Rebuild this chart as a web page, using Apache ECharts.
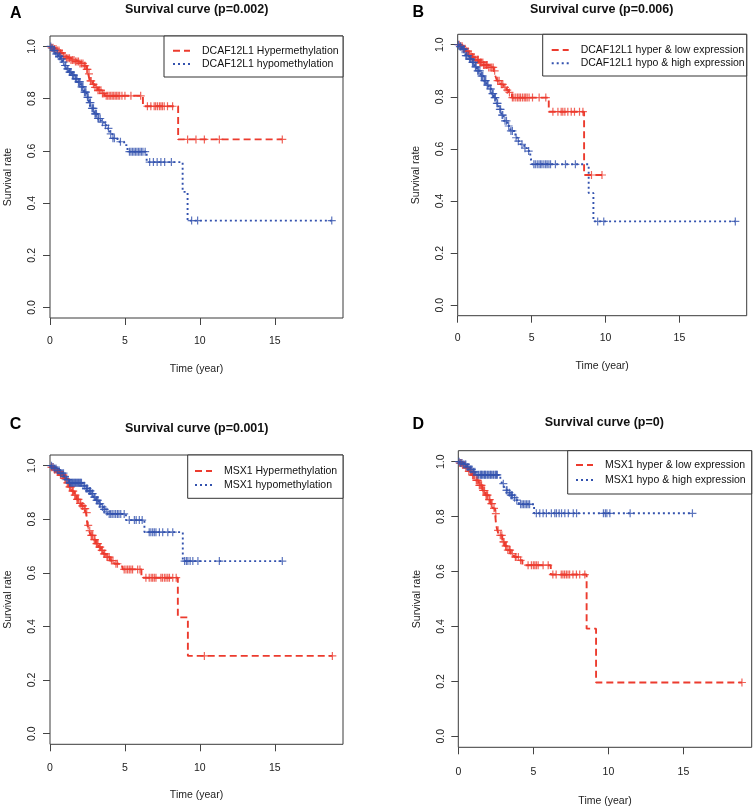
<!DOCTYPE html>
<html><head><meta charset="utf-8">
<script src="https://cdn.jsdelivr.net/npm/echarts@6/dist/echarts.min.js"></script>
<style>html,body{margin:0;padding:0;background:#fff}#c{width:753px;height:808px}</style>
</head><body><div id="c"></div>
<script>
// ---------- tick labels / text ----------
const xTicks = [0, 5, 10, 15];
const yTicks = [0, 0.2, 0.4, 0.6, 0.8, 1.0];
const panelLetters = ['A', 'B', 'C', 'D'];
const titles = ['Survival curve (p=0.002)', 'Survival curve (p=0.006)', 'Survival curve (p=0.001)', 'Survival curve (p=0)'];
const hyperNames = ['DCAF12L1 Hypermethylation', 'DCAF12L1 hyper & low expression', 'MSX1 Hypermethylation', 'MSX1 hyper & low expression'];
const hypoNames = ['DCAF12L1 hypomethylation', 'DCAF12L1 hypo & high expression', 'MSX1 hypomethylation', 'MSX1 hypo & high expression'];

// ---------- Panel A ----------
const aHyperT = [0.1,0.3,0.5,0.7,0.9,1.1,1.4,1.7,2.0,2.25,2.45,2.55,2.65,2.85,3.0,3.2,3.45,3.65,6.2,8.55];
const aHyperS = [0.995,0.99,0.984,0.975,0.962,0.955,0.948,0.942,0.935,0.926,0.912,0.895,0.868,0.855,0.843,0.832,0.82,0.811,0.771,0.644];
const aHyperC = [0.1,0.2,0.3,0.4,0.5,0.6,0.7,0.8,0.9,1.0,1.1,1.2,1.3,1.4,1.5,1.6,1.7,1.8,1.9,2.0,2.1,2.2,2.3,2.35,2.45,2.5,2.6,2.7,2.75,2.9,3.0,3.1,3.2,3.3,3.4,3.5,3.6,3.75,3.85,3.95,4.05,4.15,4.25,4.35,4.45,4.55,4.65,4.8,5.0,5.4,6.05,6.5,6.73,6.95,7.05,7.17,7.3,7.4,7.5,7.62,7.84,8.18,9.18,9.74,10.3,11.3,15.5];
const aHypoT = [0.1,0.2,0.38,0.55,0.71,0.85,0.95,1.1,1.27,1.45,1.65,1.83,2.05,2.27,2.45,2.6,2.72,2.95,3.16,3.4,3.6,3.83,4.0,4.16,4.5,4.95,5.17,6.45,8.85,9.18];
const aHypoS = [0.993,0.985,0.971,0.962,0.952,0.94,0.927,0.914,0.902,0.89,0.876,0.864,0.845,0.825,0.805,0.785,0.763,0.742,0.724,0.71,0.698,0.686,0.665,0.648,0.635,0.622,0.597,0.557,0.443,0.333];
const aHypoC = [0.05,0.15,0.25,0.3,0.4,0.5,0.6,0.65,0.75,0.8,0.9,1.0,1.05,1.15,1.2,1.3,1.35,1.4,1.5,1.55,1.6,1.7,1.75,1.8,1.9,1.95,2.0,2.1,2.15,2.2,2.3,2.35,2.4,2.5,2.55,2.65,2.7,2.8,2.85,2.9,3.0,3.05,3.1,3.2,3.25,3.35,3.5,3.7,3.9,4.05,4.2,4.3,4.7,5.3,5.4,5.5,5.6,5.7,5.8,5.9,6.0,6.1,6.2,6.35,6.65,6.9,7.15,7.4,7.65,8.1,9.45,9.85,18.8];

// ---------- Panel B ----------
const bHyperT = [0.15,0.35,0.55,0.74,1.0,1.2,1.42,1.75,2.1,2.44,2.55,2.66,2.9,3.11,3.3,3.45,3.67,6.16,8.55];
const bHyperS = [0.994,0.985,0.975,0.964,0.952,0.942,0.932,0.922,0.913,0.9,0.88,0.862,0.848,0.836,0.826,0.817,0.797,0.743,0.5];
const bHyperC = [0.1,0.2,0.3,0.4,0.5,0.6,0.7,0.8,0.9,1.0,1.1,1.2,1.3,1.35,1.4,1.5,1.55,1.6,1.7,1.75,1.8,1.9,1.95,2.0,2.1,2.2,2.3,2.4,2.5,2.7,2.8,2.95,3.05,3.2,3.35,3.5,3.7,3.8,3.93,4.05,4.15,4.25,4.38,4.5,4.6,4.7,4.83,5.06,5.51,5.96,6.44,6.78,7.0,7.11,7.25,7.45,7.68,7.9,8.24,8.47,9.05,9.76];
const bHypoT = [0.1,0.29,0.52,0.75,0.97,1.15,1.3,1.55,1.76,1.95,2.1,2.3,2.44,2.6,2.77,2.95,3.11,3.35,3.56,3.9,4.05,4.24,4.5,4.69,4.91,5.03,8.86,9.18];
const bHypoS = [0.993,0.983,0.958,0.945,0.932,0.915,0.9,0.88,0.862,0.845,0.83,0.812,0.797,0.775,0.752,0.73,0.708,0.688,0.669,0.643,0.63,0.618,0.603,0.592,0.573,0.541,0.431,0.322];
const bHypoC = [0.05,0.15,0.2,0.3,0.4,0.45,0.55,0.6,0.7,0.8,0.85,0.9,1.0,1.05,1.1,1.2,1.25,1.35,1.4,1.5,1.6,1.65,1.7,1.8,1.85,1.9,2.0,2.05,2.2,2.25,2.35,2.4,2.5,2.55,2.65,2.7,2.85,2.9,3.0,3.05,3.2,3.3,3.45,3.6,3.7,3.95,4.1,4.35,4.55,4.8,5.15,5.25,5.38,5.5,5.6,5.7,5.83,5.95,6.05,6.17,6.28,6.61,7.29,7.96,9.47,9.88,18.78];

// ---------- Panel C ----------
const cHyperT = [0.1,0.3,0.49,0.7,0.94,1.1,1.27,1.45,1.61,1.78,1.94,2.1,2.28,2.4,2.5,2.6,2.72,2.9,3.06,3.25,3.4,3.55,3.73,4.0,4.29,4.6,4.84,6.1,8.53,9.2];
const cHyperS = [0.994,0.985,0.977,0.965,0.952,0.936,0.921,0.905,0.89,0.874,0.859,0.85,0.84,0.825,0.777,0.758,0.74,0.724,0.709,0.696,0.684,0.671,0.659,0.646,0.634,0.624,0.613,0.582,0.434,0.29];
const cHyperC = [0.1,0.2,0.3,0.4,0.5,0.55,0.6,0.7,0.8,0.85,0.9,1.0,1.05,1.15,1.2,1.3,1.35,1.4,1.5,1.55,1.65,1.7,1.8,1.85,1.9,2.0,2.05,2.15,2.2,2.3,2.35,2.45,2.55,2.65,2.75,2.8,2.85,2.95,3.0,3.1,3.15,3.2,3.3,3.35,3.45,3.5,3.6,3.65,3.8,3.85,3.95,4.1,4.2,4.4,4.5,4.95,5.07,5.18,5.29,5.4,5.51,5.85,6.0,6.4,6.62,6.75,6.85,6.96,7.07,7.4,7.5,7.63,7.74,7.86,7.97,8.19,8.42,10.3,18.84];
const cHypoT = [0.15,0.3,0.49,0.7,0.94,1.1,1.27,2.15,2.39,2.55,2.72,2.9,3.06,3.25,3.4,3.55,3.73,3.85,5.07,6.3,8.86];
const cHypoS = [0.995,0.99,0.983,0.972,0.959,0.948,0.936,0.925,0.915,0.906,0.896,0.883,0.871,0.858,0.846,0.837,0.828,0.82,0.797,0.752,0.644];
const cHypoC = [0.1,0.2,0.3,0.4,0.5,0.6,0.7,0.8,0.9,1.0,1.1,1.2,1.3,1.35,1.4,1.45,1.5,1.55,1.6,1.65,1.7,1.75,1.8,1.85,1.9,1.95,2.0,2.05,2.1,2.2,2.3,2.4,2.45,2.5,2.6,2.65,2.7,2.8,2.85,2.95,3.0,3.1,3.15,3.2,3.3,3.35,3.5,3.6,3.65,3.8,3.95,4.05,4.15,4.27,4.38,4.5,4.6,4.72,4.95,5.29,5.63,5.75,5.96,6.15,6.62,6.73,6.85,6.96,7.07,7.3,7.52,7.86,8.19,8.98,9.1,9.2,9.35,9.53,9.87,11.3,15.5];

// ---------- Panel D ----------
const dHyperT = [0.1,0.29,0.47,0.7,0.92,1.15,1.36,1.6,1.81,2.0,2.14,2.3,2.45,2.52,2.6,2.7,2.93,3.1,3.26,3.5,3.71,4.04,4.27,6.16,8.55,9.18];
const dHyperS = [0.995,0.988,0.978,0.965,0.951,0.932,0.914,0.895,0.878,0.862,0.847,0.83,0.811,0.77,0.75,0.732,0.708,0.693,0.678,0.665,0.653,0.641,0.623,0.589,0.392,0.196];
const dHyperC = [0.1,0.2,0.3,0.4,0.5,0.6,0.7,0.8,0.85,0.95,1.0,1.05,1.1,1.2,1.25,1.3,1.4,1.45,1.5,1.55,1.65,1.7,1.75,1.85,1.9,1.95,2.05,2.1,2.2,2.25,2.38,2.5,2.65,2.8,2.9,3.0,3.05,3.15,3.2,3.3,3.4,3.45,3.6,3.8,3.85,4.0,4.15,4.65,4.87,5.0,5.1,5.2,5.32,5.65,5.99,6.3,6.52,6.86,6.97,7.08,7.2,7.31,7.42,7.64,7.87,8.09,8.43,18.9];
const dHypoT = [0.15,0.35,0.58,0.8,1.0,1.14,2.8,2.93,3.05,3.15,3.3,3.48,3.65,3.82,4.04,5.05];
const dHypoS = [0.995,0.99,0.981,0.972,0.963,0.952,0.935,0.92,0.908,0.896,0.887,0.878,0.869,0.86,0.845,0.812];
const dHypoC = [0.05,0.15,0.25,0.35,0.45,0.5,0.6,0.7,0.8,0.9,1.0,1.1,1.25,1.35,1.45,1.5,1.55,1.6,1.7,1.75,1.8,1.85,1.95,2.0,2.1,2.15,2.2,2.3,2.35,2.45,2.5,2.55,2.6,3.0,3.2,3.25,3.4,3.5,3.55,3.6,3.75,3.9,4.15,4.25,4.35,4.45,4.55,4.65,4.75,5.2,5.43,5.65,5.87,6.2,6.43,6.54,6.72,6.88,7.1,7.33,7.66,7.88,9.67,9.8,9.9,10.1,11.45,15.6];

const hyperData = [[aHyperT, aHyperS, aHyperC],[bHyperT, bHyperS, bHyperC],[cHyperT, cHyperS, cHyperC],[dHyperT, dHyperS, dHyperC]];
const hypoData = [[aHypoT, aHypoS, aHypoC],[bHypoT, bHypoS, bHypoC],[cHypoT, cHypoS, cHypoC],[dHypoT, dHypoS, dHypoC]];

// ---------- layout ----------
const RED = '#EC3B2E', BLUE = '#3352AE';
const RED_DASH = [7, 4], BLUE_DASH = [2, 3];
const RED_W = 1.9, BLUE_W = 1.9;
const FONT = '"Liberation Sans", Arial, Helvetica, sans-serif';
const grids = [
  {left: 50, top: 36, width: 293, height: 282},
  {left: 457.7, top: 34.3, width: 289, height: 281.4},
  {left: 50, top: 455, width: 293, height: 289.3},
  {left: 458.3, top: 450.7, width: 293.4, height: 296.6}
];
const xLabMargin = [18, 17, 18, 19.5];
const xNameGap = [46, 45, 45, 48.5];
// legend: x of sample start, row y's, box
const legendPos = [
  {x: 173, rows: [50.7, 64], box: [164, 36, 179, 41]},
  {x: 551.7, rows: [50, 63.3], box: [542.7, 34.3, 204, 41.7]},
  {x: 195, rows: [471, 485], box: [187.7, 455, 155.3, 43.3]},
  {x: 576, rows: [465, 480], box: [567.7, 450.7, 184, 43.3]}
];
const titlePos = [[196.7, 10], [601.7, 10], [196.7, 429], [604.3, 422.5]];
const letterPos = [[15.8, 13.5], [418.2, 12.8], [15.5, 425], [418.2, 425]];

function survAt(T, S, t) {
  let s = 1;
  for (let i = 0; i < T.length; i++) { if (T[i] <= t) s = S[i]; }
  return s;
}
function stepPoints(T, S, C) {
  const pts = [[0, 1]];
  for (let i = 0; i < T.length; i++) pts.push([T[i], S[i]]);
  const end = Math.max(C[C.length - 1], T[T.length - 1]);
  pts.push([end, S[S.length - 1]]);
  return pts;
}
function censorPoints(T, S, C) { return C.map(t => [t, survAt(T, S, t)]); }

const CROSS = 'path://M0,5L10,5M5,0L5,10';
const option = {
  animation: false,
  backgroundColor: '#fff',
  grid: [], xAxis: [], yAxis: [], series: [], graphic: []
};
for (let i = 0; i < 4; i++) {
  const g = grids[i];
  option.grid.push(Object.assign({show: true, borderColor: '#3a3a3a', borderWidth: 1, backgroundColor: 'transparent', containLabel: false}, g));
  option.xAxis.push({
    type: 'value', gridIndex: i, min: 0, max: 19.55, position: 'bottom',
    axisLine: {show: false, onZero: false},
    axisTick: {show: true, length: 7, customValues: xTicks, lineStyle: {color: '#444', width: 1}},
    axisLabel: {customValues: xTicks, margin: xLabMargin[i], fontSize: 10.5, color: '#222', fontFamily: FONT},
    splitLine: {show: false},
    name: 'Time (year)', nameLocation: 'middle', nameGap: xNameGap[i],
    nameTextStyle: {fontSize: 10.5, color: '#222', fontFamily: FONT}
  });
  option.yAxis.push({
    type: 'value', gridIndex: i, min: -0.04, max: 1.04, position: 'left',
    axisLine: {show: false, onZero: false},
    axisTick: {show: true, length: 7, customValues: yTicks, lineStyle: {color: '#444', width: 1}},
    axisLabel: {customValues: yTicks, rotate: 90, margin: 12, fontSize: 10.5, color: '#222', fontFamily: FONT,
      formatter: v => Number(v).toFixed(1)},
    splitLine: {show: false},
    name: 'Survival rate', nameLocation: 'middle', nameGap: 36, nameRotate: 90,
    nameTextStyle: {fontSize: 10.5, color: '#222', fontFamily: FONT}
  });
  const hd = hyperData[i], pd = hypoData[i];
  option.series.push({
    type: 'line', name: hyperNames[i], xAxisIndex: i, yAxisIndex: i, step: 'end', symbol: 'none',
    data: stepPoints(hd[0], hd[1], hd[2]),
    lineStyle: {color: RED, width: RED_W, type: RED_DASH}, itemStyle: {color: RED}, silent: true, z: 2
  });
  option.series.push({
    type: 'scatter', name: hyperNames[i] + ' (censored)', xAxisIndex: i, yAxisIndex: i,
    data: censorPoints(hd[0], hd[1], hd[2]), symbol: CROSS, symbolSize: 8,
    itemStyle: {color: 'none', borderColor: RED, borderWidth: 1.2}, silent: true, z: 3
  });
  option.series.push({
    type: 'line', name: hypoNames[i], xAxisIndex: i, yAxisIndex: i, step: 'end', symbol: 'none',
    data: stepPoints(pd[0], pd[1], pd[2]),
    lineStyle: {color: BLUE, width: BLUE_W, type: BLUE_DASH}, itemStyle: {color: BLUE}, silent: true, z: 4
  });
  option.series.push({
    type: 'scatter', name: hypoNames[i] + ' (censored)', xAxisIndex: i, yAxisIndex: i,
    data: censorPoints(pd[0], pd[1], pd[2]), symbol: CROSS, symbolSize: 8,
    itemStyle: {color: 'none', borderColor: BLUE, borderWidth: 1.2}, silent: true, z: 5
  });
  // legend (drawn as graphic so the sample keeps the line dash and R-style spacing)
  const lp = legendPos[i];
  option.graphic.push({
    type: 'rect', shape: {x: lp.box[0], y: lp.box[1], width: lp.box[2], height: lp.box[3]},
    style: {fill: '#fff', stroke: '#333', lineWidth: 1}, silent: true, z: 10
  });
  const rowNames = [hyperNames[i], hypoNames[i]];
  const rowCol = [RED, BLUE], rowDash = [RED_DASH, BLUE_DASH], rowW = [RED_W, BLUE_W];
  for (let r = 0; r < 2; r++) {
    option.graphic.push({
      type: 'line', shape: {x1: lp.x, y1: lp.rows[r], x2: lp.x + 17, y2: lp.rows[r]},
      style: {stroke: rowCol[r], lineWidth: rowW[r], lineDash: rowDash[r]}, silent: true, z: 11
    });
    option.graphic.push({
      type: 'text', x: lp.x + 29, y: lp.rows[r],
      style: {text: rowNames[r], font: '10.5px ' + FONT, fill: '#111', align: 'left', verticalAlign: 'middle'}, silent: true, z: 11
    });
  }
  option.graphic.push({
    type: 'text', x: titlePos[i][0], y: titlePos[i][1],
    style: {text: titles[i], font: 'bold 12.5px ' + FONT, fill: '#111', align: 'center', verticalAlign: 'middle'}, silent: true
  });
  option.graphic.push({
    type: 'text', x: letterPos[i][0], y: letterPos[i][1],
    style: {text: panelLetters[i], font: 'bold 16px ' + FONT, fill: '#000', align: 'center', verticalAlign: 'middle'}, silent: true
  });
}
const chart = echarts.init(document.getElementById('c'), null, {renderer: 'canvas'});
chart.setOption(option);
</script>
</body></html>
